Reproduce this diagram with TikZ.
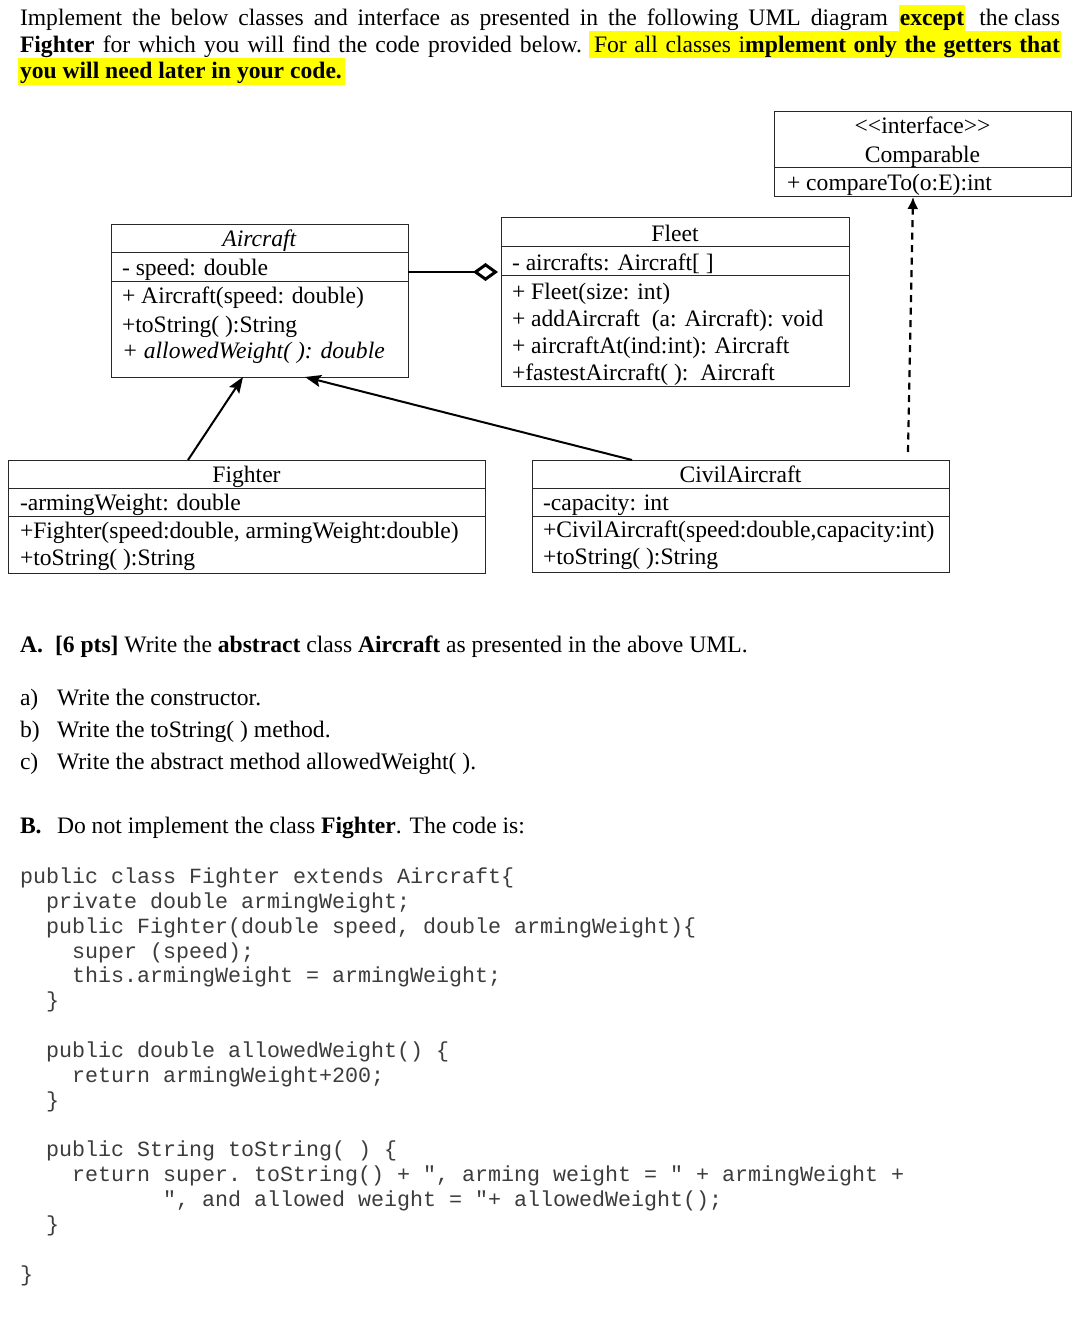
\documentclass[tikz,border=0pt]{standalone}
\usepackage{fontspec}
\setmainfont{Liberation Serif}
\setmonofont{Liberation Mono}
\usetikzlibrary{arrows.meta}
\definecolor{hl}{RGB}{255,255,0}
\definecolor{codegray}{RGB}{60,60,60}
\definecolor{boxline}{RGB}{40,40,40}
\newcommand\txtfont{\fontsize{23.6}{27}\selectfont}
\newcommand\codefont{\ttfamily\fontsize{21.67}{24.85}\selectfont}
\tikzset{
  every node/.style={inner sep=0pt, outer sep=0pt, font=\txtfont},
  lt/.style={anchor=base west},
  ct/.style={anchor=base},
  rt/.style={anchor=base east},
  code/.style={anchor=base west, font=\codefont, text=codegray},
  umlbox/.style={draw=boxline, line width=1pt, anchor=north west, minimum width=#1},
  divider/.style={draw=boxline, line width=1pt},
  gen/.style={line width=2pt, -{Stealth[length=16pt,width=12pt,inset=3pt]}},
  agg/.style={line width=2pt, -{Diamond[open,length=25pt,width=18pt,line width=3pt]}},
  realize/.style={line width=2.2pt, dash pattern=on 7pt off 5.5pt, -{Latex[length=12pt,width=11pt]}}
}
\begin{document}
\begin{tikzpicture}[x=1pt,y=-1pt]
\useasboundingbox (0,0) rectangle (1080,1321);
\fill[white] (0,0) rectangle (1080,1321);

% ---------- intro paragraph ----------
\fill[hl] (899,5) rectangle (965,31);
\fill[hl] (589,31) rectangle (1061,58);
\fill[hl] (18,58) rectangle (345,85);
\node[lt] (l1a) at (20,26) {\makebox[868pt][s]{Implement the below classes and interface as presented in the following UML diagram}};
\node[ct] (l1b) at (932,26) {\textbf{except}};
\node[rt] (l1c) at (1060,26) {the class};
\node[lt] (l2a) at (20,53) {\makebox[562pt][s]{\textbf{Fighter} for which you will find the code provided below.}};
\node[lt] (l2b) at (594,53) {\makebox[466pt][s]{For all classes i\textbf{mplement only the getters that}}};
\node[lt] (l3) at (20,79) {\textbf{you will need later in your code.}};

% ---------- UML boxes ----------
\node[umlbox=297pt, minimum height=85pt] (iface) at (774,112) {};
\draw[divider] (774,168) -- (1071,168);
\node[ct] (ifst) at (922.5,134) {\mbox{<}\mbox{<}interface\mbox{>}\mbox{>}};
\node[ct] (ifname) at (922.5,163) {Comparable};
\node[lt] (ifm) at (787,191) {+ compareTo(o:E):int};

\node[umlbox=297pt, minimum height=152pt] (aircraft) at (111,225) {};
\draw[divider] (111,253) -- (408,253);
\draw[divider] (111,282) -- (408,282);
\node[ct] (acname) at (259.5,247) {\textit{Aircraft}};
\node[lt] (aca1) at (122,276) {- speed: double};
\node[lt] (acm1) at (122,304) {+ Aircraft(speed: double)};
\node[lt] (acm2) at (122,332) {+toString( ):String};
\node[lt] (acm3) at (122,358) {\textit{+ allowedWeight( ): double}};

\node[umlbox=348pt, minimum height=168pt] (fleet) at (501,218) {};
\draw[divider] (501,247) -- (849,247);
\draw[divider] (501,276) -- (849,276);
\node[ct] (flname) at (675,242) {Fleet};
\node[lt] (fla1) at (512,271) {- aircrafts: Aircraft[ ]};
\node[lt] (flm1) at (512,299) {+ Fleet(size: int)};
\node[lt] (flm2) at (512,326) {+ addAircraft\ \ (a: Aircraft): void};
\node[lt] (flm3) at (512,353) {+ aircraftAt(ind:int): Aircraft};
\node[lt] (flm4) at (512,380) {+fastestAircraft( ):\ \ Aircraft};

\node[umlbox=477pt, minimum height=113pt] (fighter) at (8,460) {};
\draw[divider] (8,488) -- (485,488);
\draw[divider] (8,516) -- (485,516);
\node[ct] (finame) at (246.5,482) {Fighter};
\node[lt] (fia1) at (20,510) {-armingWeight: double};
\node[lt] (fim1) at (20,538) {+Fighter(speed:double, armingWeight:double)};
\node[lt] (fim2) at (20,565) {+toString( ):String};

\node[umlbox=417pt, minimum height=112pt] (civil) at (532,460) {};
\draw[divider] (532,488) -- (949,488);
\draw[divider] (532,516) -- (949,516);
\node[ct] (ciname) at (740.5,482) {CivilAircraft};
\node[lt] (cia1) at (543,510) {-capacity: int};
\node[lt] (cim1) at (543,537) {+CivilAircraft(speed:double,capacity:int)};
\node[lt] (cim2) at (543,564) {+toString( ):String};

% ---------- connectors ----------
\draw[gen] ([xshift=-58.5pt]fighter.north) -- ([xshift=-16.5pt]aircraft.south);
\draw[gen] ([xshift=-108.5pt]civil.north) -- ([xshift=45.5pt]aircraft.south);
\draw[agg] ([yshift=29pt]aircraft.east) -- ([yshift=30pt,xshift=-3pt]fleet.west);
\draw[realize] ([xshift=167.5pt,yshift=8pt]civil.north) -- ([xshift=-9.5pt]iface.south);

% ---------- questions ----------
\node[lt] (qa) at (20,652) {\textbf{A.}};
\node[lt] (qat) at (55,652) {\textbf{[6 pts]} Write the \textbf{abstract} class \textbf{Aircraft} as presented in the above UML.};
\node[lt] (qa1) at (20,705) {a)};
\node[lt] (qa1t) at (57,705) {Write the constructor.};
\node[lt] (qa2) at (20,737) {b)};
\node[lt] (qa2t) at (57,737) {Write the toString( ) method.};
\node[lt] (qa3) at (20,769) {c)};
\node[lt] (qa3t) at (57,769) {Write the abstract method allowedWeight( ).};
\node[lt] (qb) at (20,833) {\textbf{B.}};
\node[lt] (qbt) at (57,833) {Do not implement the class \textbf{Fighter}. The code is:};

% ---------- code ----------
\node[code] (c0) at (20,883) {public class Fighter extends Aircraft\{};
\node[code] (c1) at (46,908) {private double armingWeight;};
\node[code] (c2) at (46,933) {public Fighter(double speed, double armingWeight)\{};
\node[code] (c3) at (72,958) {super (speed);};
\node[code] (c4) at (72,982) {this.armingWeight = armingWeight;};
\node[code] (c5) at (46,1007) {\}};
\node[code] (c7) at (46,1057) {public double allowedWeight() \{};
\node[code] (c8) at (72,1082) {return armingWeight+200;};
\node[code] (c9) at (46,1107) {\}};
\node[code] (c11) at (46,1156) {public String toString( ) \{};
\node[code] (c12) at (72,1181) {return super. toString() + ", arming weight = " + armingWeight +};
\node[code] (c13) at (163,1206) {", and allowed weight = "+ allowedWeight();};
\node[code] (c14) at (46,1231) {\}};
\node[code] (c16) at (20,1281) {\}};
\end{tikzpicture}
\end{document}
